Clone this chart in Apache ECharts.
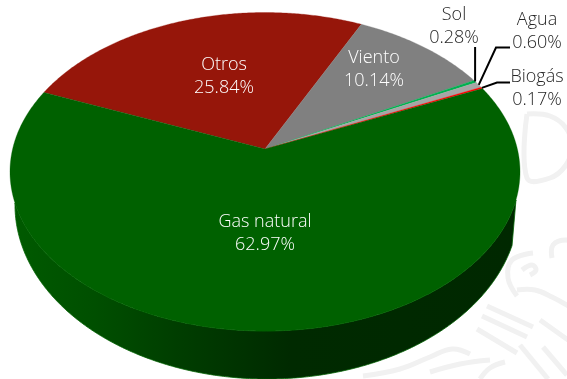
<!DOCTYPE html>
<html>
<head>
<meta charset="utf-8">
<style>html,body{margin:0;padding:0;background:#fff}#chart{width:567px;height:379px}</style>
<script src="https://cdn.jsdelivr.net/npm/echarts@6/dist/echarts.min.js"></script>
</head>
<body>
<div id="chart"></div>
<script>
// Electricity generation mix, clockwise from the back-left edge of the disc.
const categories = ['Otros', 'Viento', 'Sol', 'Agua', 'Biogás', 'Gas natural'];
const shares = [25.84, 10.14, 0.28, 0.60, 0.17, 62.97];
const sliceColors = ['#96160A', '#808080', '#00B050', '#A6A6A6', '#FF0000', '#006100'];

// Perspective disc: circle coordinates are projected so the near rim sits lower and wider.
const disc = { cx: 265, cy: 149, R: 252.4, b: 156, k: 0.1429, startAngle: -67.5 };
// Lower rim of the side wall and the stretch of the near rim the wall hangs from.
const base = { cx: 267, cy: 205, rx: 252, ry: 174 };
const wallSpan = { from: 108.2, to: 250.7, baseFrom: 13.5, baseTo: 180 };

const labelLayout = {
  'Otros':       { x: 224, y: 76,  color: '#ffffff' },
  'Viento':      { x: 374, y: 69,  color: '#ffffff' },
  'Sol':         { x: 454, y: 26,  color: '#262626' },
  'Agua':        { x: 537, y: 31,  color: '#262626' },
  'Biogás':      { x: 537, y: 88,  color: '#262626' },
  'Gas natural': { x: 265, y: 233, color: '#ffffff' }
};
// Leader elbows, listed from the label end towards the slice.
const leaderLayout = {
  'Sol':    [[null, 47]],
  'Agua':   [[510, 47.5], [496, 47.5]],
  'Biogás': [[510, 82.5], [497, 82.5]]
};

function project(deg) {
  const t = deg * Math.PI / 180, u = Math.sin(t), v = -Math.cos(t), w = 1 - disc.k * v;
  return [disc.cx + disc.R * u / w, disc.cy + disc.b * v / w];
}
function arc(from, to, fn) {
  const pts = [], n = Math.max(2, Math.ceil(Math.abs(to - from) / 0.5));
  for (let i = 0; i <= n; i++) pts.push(fn(from + (to - from) * i / n));
  return pts;
}
function baseRim(deg) {
  const t = deg * Math.PI / 180;
  return [base.cx + base.rx * Math.cos(t), base.cy + base.ry * Math.sin(t)];
}

const total = shares.reduce((a, b) => a + b, 0);
const starts = [];
shares.reduce((acc, s, i) => { starts[i] = acc; return acc + s / total * 360; }, disc.startAngle);

function renderItem(params, api) {
  const i = api.value(0), sweep = api.value(1) / total * 360;
  const from = starts[i], to = from + sweep, name = categories[i];
  const children = [];
  if (name === 'Gas natural') {
    const top = arc(wallSpan.from, wallSpan.to, project);
    const lower = arc(wallSpan.baseTo, wallSpan.baseFrom, baseRim);
    children.push({
      type: 'polygon',
      shape: { points: top.concat(lower) },
      style: {
        stroke: '#006100', lineWidth: 0.8,
        fill: new echarts.graphic.LinearGradient(0, 0, 1, 0, [
          { offset: 0, color: '#005a00' }, { offset: 0.16, color: '#004f00' },
          { offset: 0.32, color: '#003e00' }, { offset: 0.55, color: '#002a00' },
          { offset: 1, color: '#002800' }
        ])
      }
    });
  }
  const rim = arc(from, to, project);
  children.push({
    type: 'polygon',
    shape: { points: [[disc.cx, disc.cy]].concat(rim) },
    style: { fill: sliceColors[i], stroke: sliceColors[i], lineWidth: 0.3 }
  });
  return { type: 'group', children };
}

function renderCallouts(params, api) {
  const i = api.value(0), name = categories[i], pos = labelLayout[name];
  const children = [];
  const elbows = leaderLayout[name];
  if (elbows) {
    const tip = project(starts[i] + shares[i] / total * 180);
    const pts = elbows.map(p => [p[0] === null ? tip[0] : p[0], p[1]]);
    pts.push(tip);
    children.push({ type: 'polyline', shape: { points: pts }, style: { stroke: '#000', lineWidth: 2, fill: null } });
  }
  children.push({
    type: 'text',
    style: {
      x: pos.x, y: pos.y, text: name + '\n' + api.value(1).toFixed(2) + '%',
      fill: pos.color, align: 'center', verticalAlign: 'middle', textAlign: 'center', textVerticalAlign: 'middle',
      font: '300 18px "Open Sans"', lineHeight: 23
    }
  });
  return { type: 'group', children };
}

// Faint institutional seal printed behind the chart.
const sealStrokes = [
  [[527, 114], [527, 178], [550, 178], [566, 165], [572, 146], [566, 128], [550, 116], [527, 114]],
  [[552, 258], [553, 245], [566, 240], [575, 245]],
  [[517, 296], [508, 278], [512, 260], [533, 253]],
  [[522, 270], [532, 265], [536, 270], [530, 275]],
  [[517, 290], [535, 290], [552, 297], [570, 307]],
  [[487, 306], [533, 327]], [[482, 316], [527, 337]], [[477, 329], [517, 353]],
  [[540, 320], [575, 345]], [[543, 347], [567, 375]], [[520, 345], [548, 379]],
  [[363, 376], [400, 369], [430, 357], [452, 349], [470, 354]],
  [[430, 372], [460, 364], [490, 360]], [[480, 379], [490, 368], [505, 362]]
];

function renderSeal() {
  return {
    type: 'group',
    children: sealStrokes.map(points => ({
      type: 'polyline',
      shape: { points, smooth: 0.4 },
      style: { stroke: '#f1f1f1', lineWidth: 5, fill: null }
    }))
  };
}

const chart = echarts.init(document.getElementById('chart'), null, { renderer: 'canvas' });
chart.setOption({
  animation: false,
  backgroundColor: '#ffffff',
  series: [
    {
      type: 'custom', coordinateSystem: 'none', z: 1, silent: true,
      clip: false, renderItem: renderSeal, data: [[0]]
    },
    {
      type: 'custom', coordinateSystem: 'none', z: 2, silent: true,
      clip: false, renderItem,
      data: shares.map((s, i) => [i, s])
    },
    {
      type: 'custom', coordinateSystem: 'none', z: 3, silent: true,
      clip: false, renderItem: renderCallouts,
      data: shares.map((s, i) => [i, s])
    }
  ]
});
</script>
</body>
</html>
